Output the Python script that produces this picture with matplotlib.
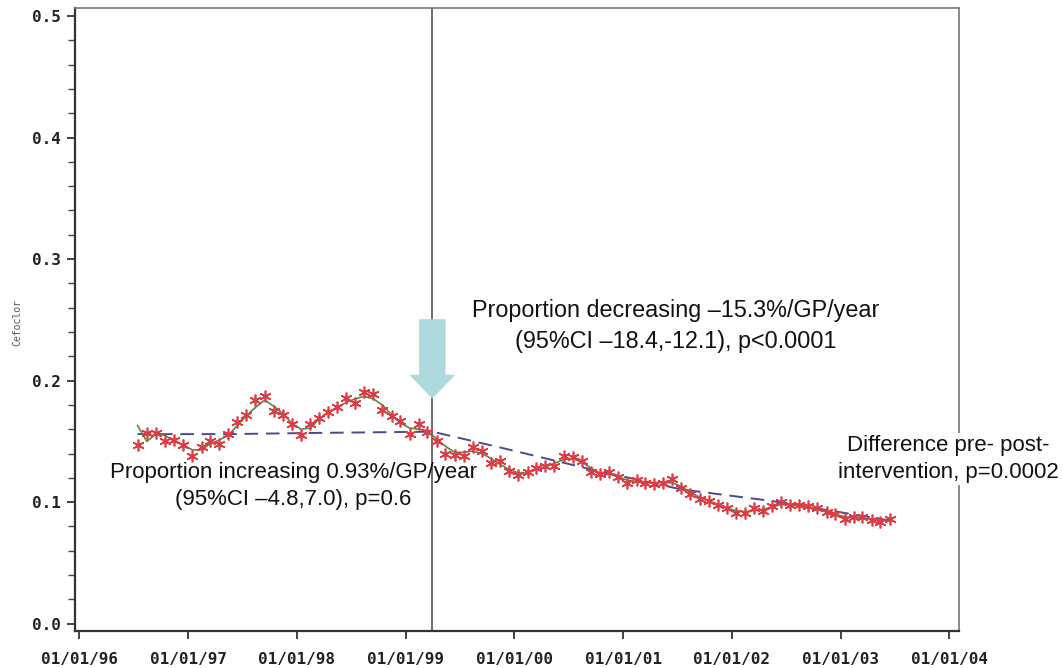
import matplotlib
matplotlib.use("Agg")
import matplotlib.pyplot as plt
import matplotlib.dates as mdates
from matplotlib.patches import FancyArrowPatch
from matplotlib.ticker import MultipleLocator
import pandas as pd

# ---------------- data ----------------
start_month = "1996-07-01"
proportion = [0.147, 0.157, 0.157, 0.150, 0.151, 0.147, 0.138, 0.145, 0.150, 0.148,
              0.156, 0.166, 0.172, 0.184, 0.187, 0.175, 0.172, 0.164, 0.155, 0.164,
              0.169, 0.174, 0.178, 0.186, 0.182, 0.191, 0.189, 0.176, 0.171, 0.167,
              0.156, 0.164, 0.158, 0.150, 0.140, 0.139, 0.138, 0.145, 0.142, 0.132,
              0.134, 0.126, 0.122, 0.125, 0.128, 0.130, 0.130, 0.138, 0.137, 0.134,
              0.125, 0.123, 0.125, 0.121, 0.116, 0.118, 0.116, 0.115, 0.116, 0.119,
              0.112, 0.107, 0.103, 0.101, 0.098, 0.095, 0.091, 0.091, 0.095, 0.093,
              0.097, 0.100, 0.098, 0.098, 0.097, 0.095, 0.092, 0.090, 0.086, 0.088,
              0.088, 0.085, 0.084, 0.086]
smoothed = [0.163, 0.150, 0.156, 0.155, 0.150, 0.147, 0.143, 0.143, 0.148, 0.151,
            0.155, 0.163, 0.171, 0.178, 0.184, 0.179, 0.173, 0.165, 0.160, 0.161,
            0.168, 0.174, 0.178, 0.182, 0.185, 0.187, 0.185, 0.180, 0.172, 0.165,
            0.161, 0.160, 0.159, 0.152, 0.146, 0.141, 0.141, 0.142, 0.140, 0.136,
            0.131, 0.127, 0.124, 0.124, 0.127, 0.129, 0.132, 0.135, 0.136, 0.133,
            0.128, 0.124, 0.123, 0.121, 0.118, 0.117, 0.116, 0.116, 0.116, 0.116,
            0.113, 0.108, 0.104, 0.101, 0.098, 0.095, 0.093, 0.092, 0.093, 0.094,
            0.096, 0.098, 0.098, 0.097, 0.096, 0.094, 0.092, 0.090, 0.088, 0.087,
            0.087, 0.086, 0.085, 0.085]
fit_dates = ["1996-07-15", "1997-05-15", "1998-03-15", "1999-04-01", "1999-11-15",
             "2000-09-15", "2001-07-15", "2002-05-15", "2003-06-15"]
fit_values = [0.156, 0.156, 0.157, 0.158, 0.145, 0.127, 0.1105, 0.101, 0.085]
intervention_date = "1999-04-01"
tick_dates = ["1996-01-01", "1997-01-01", "1998-01-01", "1999-01-01", "2000-01-01",
              "2001-01-01", "2002-01-01", "2003-01-01", "2004-01-01"]
tick_labels = ["01/01/96", "01/01/97", "01/01/98", "01/01/99", "01/01/00",
               "01/01/01", "01/01/02", "01/01/03", "01/01/04"]
y_ticks = [0.0, 0.1, 0.2, 0.3, 0.4, 0.5]
y_label = "Cefoclor"
text_post = "Proportion decreasing \u201315.3%/GP/year\n(95%CI \u201318.4,-12.1), p<0.0001"
text_pre = "Proportion increasing 0.93%/GP/year\n(95%CI \u20134.8,7.0), p=0.6"
text_diff = "Difference pre- post-\nintervention, p=0.0002"

dates = pd.date_range(start_month, periods=len(proportion), freq="MS") + pd.Timedelta(days=14)
fit_x = pd.to_datetime(fit_dates)
iv = pd.Timestamp(intervention_date)

# ---------------- figure ----------------
fig = plt.figure(figsize=(10.63, 6.68), dpi=100)
ax = fig.add_axes([0.0706, 0.0554, 0.8316, 0.9326])

ax.plot(fit_x, fit_values, color="#4a4a8e", lw=1.4, ls=(0, (7, 4)), zorder=2)
ax.plot(dates, smoothed, color="#5b8a45", lw=1.2, zorder=3)
ax.plot(dates, proportion, ls="none", marker=(6, 2, 0), ms=8.5, mew=1.2,
        color="#dc3c44", zorder=4)
ax.axvline(iv, color="#555555", lw=1.2, zorder=1)

arrow = FancyArrowPatch((mdates.date2num(iv), 0.250), (mdates.date2num(iv), 0.186),
                        arrowstyle="simple,tail_width=18,head_width=31,head_length=16",
                        mutation_scale=1, shrinkA=0, shrinkB=0,
                        color="#aedadf", zorder=5)
ax.add_patch(arrow)

ax.set_xlim(pd.Timestamp("1995-12-18"), pd.Timestamp("2004-02-03"))
ax.set_ylim(-0.006, 0.5066)
ax.set_xticks(pd.to_datetime(tick_dates))
ax.set_xticklabels(tick_labels)
ax.set_yticks(y_ticks)
ax.set_yticklabels([f"{v:.1f}" for v in y_ticks])
ax.yaxis.set_minor_locator(MultipleLocator(0.02))

for lab in ax.get_xticklabels() + ax.get_yticklabels():
    lab.set_fontfamily("DejaVu Sans Mono")
    lab.set_fontweight("bold")
    lab.set_fontsize(11.5)
ax.tick_params(axis="x", direction="out", length=6, width=1.2, pad=9, colors="#222222")
ax.tick_params(axis="y", which="major", direction="out", length=6, width=1.2, pad=4, colors="#222222")
ax.tick_params(axis="y", which="minor", direction="out", length=5, width=1.0, colors="#444444")

for side in ["left", "bottom"]:
    ax.spines[side].set_color("#333333")
    ax.spines[side].set_linewidth(1.6)
for side in ["top", "right"]:
    ax.spines[side].set_color("#777777")
    ax.spines[side].set_linewidth(1.2)

fig.text(0.016, 1 - 322 / 668, y_label, rotation=90, ha="center", va="center",
         family="DejaVu Sans Mono", size=7, color="#555555")

afont = dict(family="Liberation Sans", color="#111111", linespacing=1.4)
fig.text(676 / 1063, 1 - 326 / 668, text_post, ha="center", va="center", size=16.8, **afont)
fig.text(293 / 1063, 1 - 486 / 668, text_pre, ha="center", va="center", size=16, **afont)
fig.text(948 / 1063, 1 - 459 / 668, text_diff, ha="center", va="center", size=16,
         bbox=dict(facecolor="white", edgecolor="none", pad=1), zorder=10, **afont)

fig.savefig("out.png", dpi=100)
